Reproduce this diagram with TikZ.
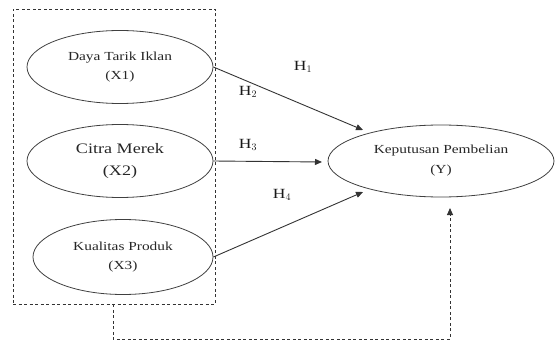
\documentclass[tikz,border=0pt]{standalone}
\usepackage{fontspec}
\setmainfont[FakeStretch=1.25]{Liberation Serif}
\usetikzlibrary{arrows.meta,shapes.geometric}
\begin{document}
\begin{tikzpicture}[x=1pt,y=-1pt,
  var/.style={draw=black!75,line width=0.8pt,ellipse,inner sep=0pt,align=center,text=black!85},
  conn/.style={draw=black!80,line width=0.9pt,-{Triangle[length=7pt,width=6pt]}},
  dsh/.style={draw=black!80,line width=0.9pt,dash pattern=on 3pt off 2.5pt},
  hlab/.style={font=\fontsize{14}{15}\selectfont,text=black!90}]
\useasboundingbox (0,0) rectangle (555,345);
\node[dsh,draw,rectangle,minimum width=202pt,minimum height=295pt,inner sep=0pt] (box) at (114,156.5) {};
\node[var,minimum width=186pt,minimum height=73pt,font=\fontsize{12.3}{19}\selectfont] (x1) at (120,67) {Daya Tarik Iklan\\(X1)};
\node[var,minimum width=186pt,minimum height=73pt,font=\fontsize{14.5}{22}\selectfont] (x2) at (120,161) {Citra Merek\\(X2)};
\node[var,minimum width=180pt,minimum height=75pt,font=\fontsize{12.3}{19}\selectfont] (x3) at (123,257) {Kualitas Produk\\(X3)};
\node[var,minimum width=226pt,minimum height=72pt,font=\fontsize{12.3}{20}\selectfont] (y) at (441,161) {Keputusan Pembelian\\(Y)};
\coordinate (t1) at (363,130);
\coordinate (t3) at (322,162);
\coordinate (t4) at (363,192);
\draw[conn] (x1.east) -- (t1);
\draw[conn] (x2.east) -- (t3);
\draw[conn] (x3.east) -- (t4);
\node[hlab] (h1) at (303,67) {H$_1$};
\node[hlab] (h2) at (248,92) {H$_2$};
\node[hlab] (h3) at (248,145) {H$_3$};
\node[hlab] (h4) at (282,195) {H$_4$};
\coordinate (b1) at (113,339);
\coordinate (b2) at (450,339);
\coordinate (b3) at (450,208);
\draw[dsh,-{Triangle[length=7pt,width=6pt]}] (box.south -| b1) -- (b1) -- (b2) -- (b3);
\end{tikzpicture}
\end{document}
